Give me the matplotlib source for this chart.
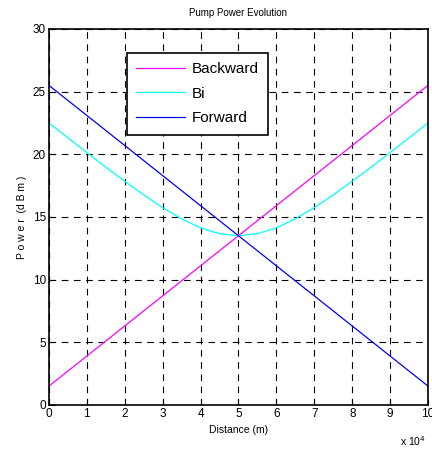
import numpy as np
import matplotlib
matplotlib.use('Agg')
import matplotlib.pyplot as plt

plt.rcParams['font.family'] = ['Liberation Sans', 'DejaVu Sans']

# distance in units of 1e4 m
distance = [0, 0.5, 1, 1.5, 2, 2.5, 3, 3.5, 4, 4.5, 5, 5.5, 6, 6.5, 7, 7.5, 8, 8.5, 9, 9.5, 10]
backward = [1.5, 2.7, 3.9, 5.1, 6.3, 7.5, 8.7, 9.9, 11.1, 12.3, 13.5,
            14.7, 15.9, 17.1, 18.3, 19.5, 20.7, 21.9, 23.1, 24.3, 25.5]
forward = backward[::-1]
bi = [22.5, 21.32, 20.14, 18.98, 17.85, 16.76, 15.74, 14.85, 14.13, 13.66, 13.5,
      13.66, 14.13, 14.85, 15.74, 16.76, 17.85, 18.98, 20.14, 21.32, 22.5]

fig = plt.figure(figsize=(4.32, 4.51), dpi=100)
ax = fig.add_axes([0.113, 0.102, 0.878, 0.834])

ax.plot(distance, backward, color='#ff00ff', lw=0.9, label='Backward')
ax.plot(distance, bi, color='#00ffff', lw=0.9, label='Bi')
ax.plot(distance, forward, color='#0000ff', lw=0.9, label='Forward')

ax.set_xlim(0, 10)
ax.set_ylim(0, 30)
ax.set_xticks(range(0, 11))
ax.set_yticks(range(0, 31, 5))
ax.tick_params(direction='in', labelsize=8.5, length=4, pad=2)
ax.grid(True, color='black', linestyle=(0, (6, 5)), linewidth=0.8)
for s in ax.spines.values():
    s.set_linewidth(1.2)

ax.set_title('Pump Power Evolution', fontsize=7, pad=9)
ax.set_xlabel('Distance (m)', fontsize=7.5, labelpad=4)
ax.set_ylabel('P o w e r  (d B m )', fontsize=7.5, labelpad=4)
fig.text(0.925, 0.012, r'x 10$^4$', fontsize=7.5)

leg = ax.legend(loc='upper left', bbox_to_anchor=(0.206, 0.936), fontsize=11,
                frameon=True, fancybox=False, edgecolor='black', framealpha=1,
                handlelength=3.2, handletextpad=0.45, borderpad=0.6,
                labelspacing=0.7, borderaxespad=0)
leg.get_frame().set_linewidth(1.2)

fig.savefig('out.png', dpi=100)
